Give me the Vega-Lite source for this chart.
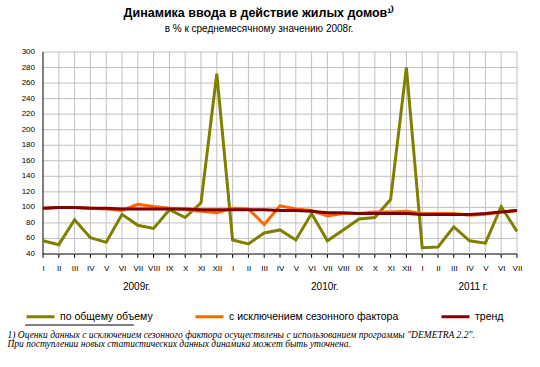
{
  "$schema": "https://vega.github.io/schema/vega-lite/v6.json",
  "width": 474,
  "height": 202,
  "autosize": {"type": "none"},
  "padding": {"left": 43, "top": 52, "right": 23, "bottom": 113},
  "background": "white",
  "config": {"view": {"stroke": null}},
  "title": {
    "text": "Динамика ввода в действие жилых домов¹⁾",
    "subtitle": "в % к среднемесячному значению 2008г.",
    "font": "Liberation Sans",
    "fontSize": 12.5,
    "fontWeight": "bold",
    "color": "black",
    "subtitleFont": "Liberation Sans",
    "subtitleFontSize": 10,
    "subtitleColor": "black",
    "subtitlePadding": 5,
    "anchor": "middle",
    "frame": "group",
    "dx": -21,
    "offset": 14
  },
  "datasets": {
    "main": [
      {"i": 0, "total": 57, "sa": 99, "trend": 99},
      {"i": 1, "total": 52, "sa": 100, "trend": 100},
      {"i": 2, "total": 84, "sa": 100, "trend": 100},
      {"i": 3, "total": 61, "sa": 99, "trend": 99},
      {"i": 4, "total": 55, "sa": 98, "trend": 99},
      {"i": 5, "total": 91, "sa": 96, "trend": 98},
      {"i": 6, "total": 77, "sa": 104, "trend": 98},
      {"i": 7, "total": 73, "sa": 101, "trend": 98},
      {"i": 8, "total": 97, "sa": 99, "trend": 98},
      {"i": 9, "total": 87, "sa": 97, "trend": 98},
      {"i": 10, "total": 106, "sa": 95, "trend": 97},
      {"i": 11, "total": 272, "sa": 93, "trend": 97},
      {"i": 12, "total": 58, "sa": 99, "trend": 97},
      {"i": 13, "total": 53, "sa": 98, "trend": 97},
      {"i": 14, "total": 67, "sa": 78, "trend": 97},
      {"i": 15, "total": 71, "sa": 102, "trend": 96},
      {"i": 16, "total": 58, "sa": 98, "trend": 96},
      {"i": 17, "total": 92, "sa": 96, "trend": 95},
      {"i": 18, "total": 57, "sa": 89, "trend": 93},
      {"i": 19, "total": 71, "sa": 92, "trend": 93},
      {"i": 20, "total": 85, "sa": 92, "trend": 92},
      {"i": 21, "total": 87, "sa": 94, "trend": 92},
      {"i": 22, "total": 110, "sa": 94, "trend": 92},
      {"i": 23, "total": 280, "sa": 95, "trend": 92},
      {"i": 24, "total": 48, "sa": 92, "trend": 91},
      {"i": 25, "total": 49, "sa": 92, "trend": 91},
      {"i": 26, "total": 75, "sa": 92, "trend": 91},
      {"i": 27, "total": 57, "sa": 90, "trend": 91},
      {"i": 28, "total": 54, "sa": 91, "trend": 92},
      {"i": 29, "total": 101, "sa": 94, "trend": 94},
      {"i": 30, "total": 69, "sa": 96, "trend": 96}
    ],
    "ygrid": [
      {"g": 40}, {"g": 60}, {"g": 80}, {"g": 100}, {"g": 120}, {"g": 140}, {"g": 160},
      {"g": 180}, {"g": 200}, {"g": 220}, {"g": 240}, {"g": 260}, {"g": 280}, {"g": 300}
    ]
  },
  "data": {"name": "main"},
  "layer": [
    {
      "data": {"name": "ygrid"},
      "mark": {"type": "rule", "strokeWidth": 1},
      "encoding": {
        "y": {"field": "g", "type": "quantitative", "scale": {"domain": [40, 300], "nice": false, "zero": false}, "axis": null},
        "color": {"condition": {"test": "datum.g == 40", "value": "black"}, "value": "#c0c0c0"}
      }
    },
    {
      "mark": {"type": "rule", "strokeWidth": 1},
      "encoding": {
        "x": {"field": "i", "type": "quantitative", "scale": {"domain": [0, 30], "nice": false, "zero": false}, "axis": null},
        "color": {"condition": {"test": "datum.i == 0", "value": "black"}, "value": "#c0c0c0"}
      }
    },
    {
      "mark": {"type": "rule", "strokeWidth": 1, "clip": false},
      "encoding": {
        "x": {"field": "i", "type": "quantitative", "scale": {"domain": [0, 30], "nice": false, "zero": false}, "axis": null},
        "y": {"datum": 40, "type": "quantitative", "axis": null},
        "y2": {"datum": 35},
        "color": {"condition": {"test": "datum.i >= 0", "value": "black"}, "value": "black"}
      }
    },
    {
      "data": {"name": "ygrid"},
      "mark": {"type": "text", "align": "right", "baseline": "middle", "dx": -8, "font": "Liberation Sans", "fontSize": 8},
      "encoding": {
        "y": {"field": "g", "type": "quantitative", "axis": null},
        "x": {"datum": 0, "type": "quantitative", "scale": {"domain": [0, 30], "nice": false, "zero": false}, "axis": null},
        "text": {"field": "g", "type": "quantitative"},
        "color": {"condition": {"test": "datum.g >= 0", "value": "black"}, "value": "black"}
      }
    },
    {
      "data": {"name": "ygrid"},
      "transform": [{"filter": "datum.g == 40"}],
      "mark": {"type": "rule", "strokeWidth": 1, "clip": false},
      "encoding": {
        "x": {"datum": -1.13, "type": "quantitative", "scale": {"domain": [0, 30], "nice": false, "zero": false}, "axis": null},
        "x2": {"datum": 5.75},
        "y": {"datum": -51.4, "type": "quantitative", "axis": null},
        "color": {"condition": {"test": "datum.g == 40", "value": "black"}, "value": "black"}
      }
    },
    {
      "transform": [{"fold": ["total", "sa"], "as": ["key", "v"]}],
      "mark": {"type": "line", "strokeWidth": 3},
      "encoding": {
        "x": {
          "field": "i", "type": "quantitative",
          "scale": {"domain": [0, 30], "nice": false, "zero": false},
          "axis": {
            "orient": "bottom",
            "values": [0,1,2,3,4,5,6,7,8,9,10,11,12,13,14,15,16,17,18,19,20,21,22,23,24,25,26,27,28,29,30],
            "labelExpr": "['I','II','III','IV','V','VI','VII','VIII','IX','X','XI','XII'][datum.value % 12]",
            "grid": false, "domain": false, "ticks": false,
            "labelPadding": 10, "labelFont": "Liberation Sans", "labelFontSize": 8, "labelColor": "black",
            "labelOverlap": false, "labelFlush": false, "title": null
          }
        },
        "y": {"field": "v", "type": "quantitative", "scale": {"domain": [40, 300], "nice": false, "zero": false}, "axis": null},
        "color": {
          "field": "key", "type": "nominal",
          "scale": {"domain": ["total", "sa", "trend"], "range": ["#808000", "#ff6600", "#800000"]},
          "legend": {
            "orient": "none", "legendX": -18, "legendY": 249, "direction": "horizontal",
            "symbolType": "stroke", "symbolStrokeWidth": 3, "symbolSize": 784,
            "labelFont": "Liberation Sans", "labelFontSize": 10.5, "labelColor": "black", "labelLimit": 400,
            "columnPadding": 36, "labelOffset": 4, "title": null,
            "labelExpr": "datum.value == 'total' ? 'по общему объему' : datum.value == 'sa' ? 'с исключением сезонного фактора' : 'тренд'"
          }
        }
      }
    },
    {
      "transform": [{"fold": ["trend"], "as": ["key", "v"]}],
      "mark": {"type": "line", "strokeWidth": 3},
      "encoding": {
        "x": {
          "field": "i", "type": "quantitative",
          "scale": {"domain": [0, 30], "nice": false, "zero": false},
          "axis": {
            "orient": "bottom",
            "values": [5.9, 17.8, 27.2],
            "labelExpr": "datum.value < 12 ? '2009г.' : datum.value < 24 ? '2010г.' : '2011 г.'",
            "grid": false, "ticks": false, "domain": false,
            "labelPadding": 27, "labelFont": "Liberation Sans", "labelFontSize": 10, "labelColor": "black",
            "labelOverlap": false, "labelFlush": false,
            "title": ["1) Оценки данных с исключением сезонного фактора осуществлены с использованием программы \"DEMETRA 2.2\".", "\u2003\u2003\u2003При поступлении новых статистических данных динамика может быть уточнена."],
            "titleFont": "Liberation Serif", "titleFontSize": 9.5, "titleFontStyle": "italic", "titleFontWeight": "normal",
            "titleColor": "black", "titleLineHeight": 9.5,
            "titleX": -36, "titleY": 83, "titleAlign": "left", "titleBaseline": "alphabetic", "titleAnchor": "start"
          }
        },
        "y": {"field": "v", "type": "quantitative", "axis": null},
        "color": {
          "field": "key", "type": "nominal",
          "scale": {"domain": ["total", "sa", "trend"], "range": ["#808000", "#ff6600", "#800000"]},
          "legend": null
        }
      }
    }
  ],
  "resolve": {"scale": {"x": "independent", "color": "independent"}}
}
